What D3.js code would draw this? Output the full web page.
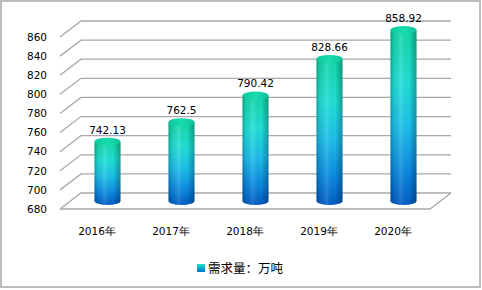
<!DOCTYPE html>
<html>
<head>
<meta charset="utf-8">
<script src="https://cdnjs.cloudflare.com/ajax/libs/d3/7.8.5/d3.min.js"></script>
<style>
  body { margin: 0; background: #fff; }
  text { font-family: "DejaVu Sans", sans-serif; fill: #000; }
</style>
</head>
<body>
<div id="chart"></div>
<script>
var years = ["2016年", "2017年", "2018年", "2019年", "2020年"];
var demand = [742.13, 762.5, 790.42, 828.66, 858.92];
var yTicks = [680, 700, 720, 740, 760, 780, 800, 820, 840, 860];
var seriesName = "需求量：万吨";

var W = 482, H = 290;
var depthX = 21, depthY = -16;   // 3d wall offset

var svg = d3.select("#chart").append("svg")
    .attr("width", W)
    .attr("height", H);

var defs = svg.append("defs");

// body colour, top to bottom
var vg = defs.append("linearGradient").attr("id", "bodyV")
    .attr("x1", 0).attr("y1", 0).attr("x2", 0).attr("y2", 1);
[[0, "#14d8a8"], [0.3, "#1fe0d6"], [0.55, "#1cc0ea"], [0.8, "#0c8ce2"], [1, "#005cc4"]]
    .forEach(function (s) { vg.append("stop").attr("offset", s[0]).attr("stop-color", s[1]); });

// side shading of the cylinder
var hg = defs.append("linearGradient").attr("id", "bodyH")
    .attr("x1", 0).attr("y1", 0).attr("x2", 1).attr("y2", 0);
[[0, "#000", 0.28], [0.12, "#000", 0.08], [0.4, "#fff", 0.12], [0.7, "#000", 0.0], [1, "#000", 0.3]]
    .forEach(function (s) {
        hg.append("stop").attr("offset", s[0]).attr("stop-color", s[1]).attr("stop-opacity", s[2]);
    });

var tg = defs.append("linearGradient").attr("id", "topG")
    .attr("x1", 0).attr("y1", 0).attr("x2", 1).attr("y2", 0);
[[0, "#10c89c"], [0.5, "#18dcb0"], [1, "#10c29a"]]
    .forEach(function (s) { tg.append("stop").attr("offset", s[0]).attr("stop-color", s[1]); });

var lg = defs.append("linearGradient").attr("id", "legG")
    .attr("x1", 0).attr("y1", 0).attr("x2", 0).attr("y2", 1);
[[0, "#20e0d0"], [1, "#0070d0"]]
    .forEach(function (s) { lg.append("stop").attr("offset", s[0]).attr("stop-color", s[1]); });

// chart border
svg.append("rect")
    .attr("x", 1).attr("y", 1)
    .attr("width", W - 3).attr("height", H - 4)
    .attr("fill", "none")
    .attr("stroke", "#bdbdbd")
    .attr("stroke-width", 2);

var y = d3.scaleLinear().domain([680, 860]).range([209, 37]);
var x = d3.scaleBand().domain(years).range([60, 430]).padding(0);

var grid = svg.append("g");

// floor
grid.append("path")
    .attr("d", "M" + x.range()[0] + "," + y(680) +
        "L" + x.range()[1] + "," + y(680) +
        "L" + (x.range()[1] + depthX) + "," + (y(680) + depthY))
    .attr("fill", "none")
    .attr("stroke", "#a8a8a8")
    .attr("stroke-width", 1.3);

yTicks.forEach(function (t) {
    grid.append("path")
        .attr("d", "M" + x.range()[0] + "," + y(t) +
            "L" + (x.range()[0] + depthX) + "," + (y(t) + depthY) +
            "L" + (x.range()[1] + depthX) + "," + (y(t) + depthY))
        .attr("fill", "none")
        .attr("stroke", "#a8a8a8")
        .attr("stroke-width", 1.3);

    svg.append("text")
        .attr("x", 47)
        .attr("y", y(t))
        .attr("dy", "0.36em")
        .attr("text-anchor", "end")
        .style("font-size", "10.5px")
        .text(t);
});

// bars as cylinders
var rx = 13, ry = 4;
var bars = svg.selectAll(".bar")
    .data(demand)
    .enter().append("g")
    .attr("class", "bar")
    .attr("transform", function (d, i) {
        return "translate(" + (x(years[i]) + x.bandwidth() / 2 + depthX / 2) + "," + (depthY / 2) + ")";
    });

bars.append("path")
    .attr("d", function (d) {
        var top = y(d), bot = y(680);
        return "M" + (-rx) + "," + top + "L" + (-rx) + "," + bot +
            "A" + rx + "," + ry + " 0 0 0 " + rx + "," + bot +
            "L" + rx + "," + top + "Z";
    })
    .attr("fill", "url(#bodyV)");

bars.append("path")
    .attr("d", function (d) {
        var top = y(d), bot = y(680);
        return "M" + (-rx) + "," + top + "L" + (-rx) + "," + bot +
            "A" + rx + "," + ry + " 0 0 0 " + rx + "," + bot +
            "L" + rx + "," + top + "Z";
    })
    .attr("fill", "url(#bodyH)");

bars.append("ellipse")
    .attr("cx", 0)
    .attr("cy", function (d) { return y(d); })
    .attr("rx", rx)
    .attr("ry", ry)
    .attr("fill", "url(#topG)");

bars.append("text")
    .attr("x", 0)
    .attr("y", function (d) { return y(d) - ry - 4; })
    .attr("text-anchor", "middle")
    .style("font-size", "10.5px")
    .text(function (d) { return d; });

// category labels
svg.selectAll(".xl")
    .data(years)
    .enter().append("text")
    .attr("class", "xl")
    .attr("x", function (d) { return x(d) + x.bandwidth() / 2; })
    .attr("y", 231)
    .attr("dy", "0.36em")
    .attr("text-anchor", "middle")
    .style("font-size", "10.5px")
    .text(function (d) { return d; });

// legend
svg.append("rect")
    .attr("x", 197).attr("y", 264)
    .attr("width", 8).attr("height", 8)
    .attr("fill", "url(#legG)");

svg.append("text")
    .attr("x", 208)
    .attr("y", 268)
    .attr("dy", "0.36em")
    .style("font-size", "12.5px")
    .style("font-family", "'Noto Sans CJK SC', sans-serif")
    .text(seriesName);
</script>
</body>
</html>
